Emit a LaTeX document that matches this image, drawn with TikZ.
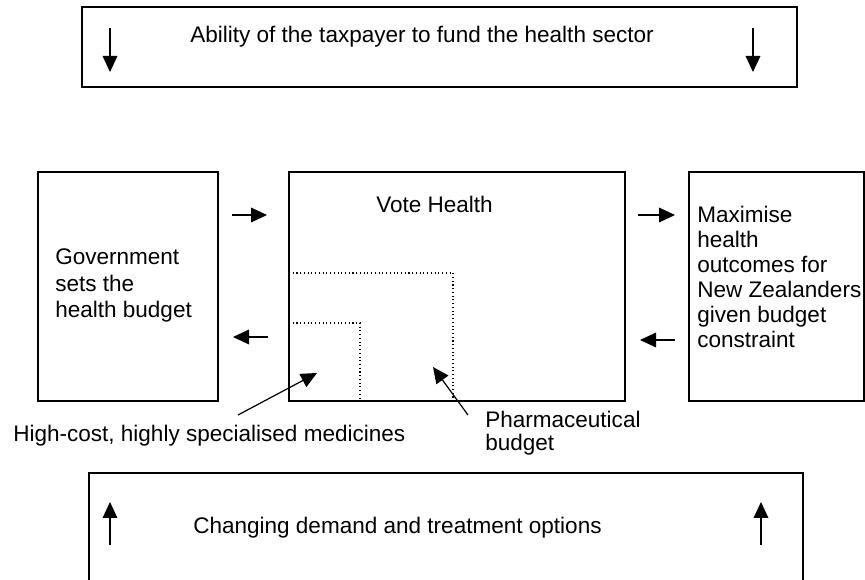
\documentclass[tikz,border=0pt]{standalone}
\usepackage{fontspec}
\setmainfont{Liberation Sans}
\usetikzlibrary{arrows.meta, positioning}

\begin{document}
\begin{tikzpicture}[x=0.75pt, y=-0.75pt,
  box/.style={draw, line width=1.2pt, inner sep=0pt, minimum height=171.75pt},
  lbl/.style={inner sep=0pt, font=\fontsize{16.9}{19.8}\selectfont},
  flow/.style={-{Triangle[length=12pt,width=11pt]}, line width=0.9pt},
  budgetline/.style={dotted, line width=0.8pt}]
  \useasboundingbox (0,0) rectangle (865,580);
  % --- outer constraints ---
  \node[box, minimum width=536.25pt, minimum height=60pt] (taxpayer) at (439.5,47) {};
  \node[box, minimum width=535.5pt, minimum height=87.75pt] (demand) at (446,531.5) {};
  \node[lbl, anchor=base west] (taxpayer text) at (190,43) {Ability of the taxpayer to fund the health sector};
  \node[lbl, anchor=base west] (demand text) at (193,534) {Changing demand and treatment options};
  \foreach \x in {110,753} \draw[flow] (\x,28) -- (\x,72);
  \foreach \x in {110,761} \draw[flow] (\x,545) -- (\x,502);
  % --- middle row ---
  \node[box, minimum width=135pt] (govt) at (128,286.5) {};
  \node[box, minimum width=252pt] (vote) at (457,286.5) {};
  \node[box, minimum width=131.25pt] (outcomes) at (776.5,286.5) {};
  \node[lbl, anchor=north west, align=left] (govt text) at (55,249) {Government\\sets the\\health budget};
  \node[lbl, anchor=base west] (vote text) at (376,213) {Vote Health};
  \node[lbl, anchor=north west, align=left, font=\fontsize{16.9}{18.8}\selectfont] (outcomes text) at (697,206)
    {Maximise\\health\\outcomes for\\New Zealanders\\given budget\\constraint};
  % Flows between the boxes
  \draw[flow] (232,215) -- (267,215);
  \draw[flow] (268,337) -- (233,337);
  \draw[flow] (638,215) -- (675,215);
  \draw[flow] (675,340) -- (640,340);
  % --- budgets inside Vote Health ---
  \draw[budgetline] (289,273) -| (453,400);
  \draw[budgetline] (289,323) -| (360,400);
  \node[lbl, anchor=base west] (hc text) at (13,442) {High-cost, highly specialised medicines};
  \node[lbl, anchor=north west, align=left, font=\fontsize{16.9}{17.4}\selectfont] (pharm text) at (485,411) {Pharmaceutical\\budget};
  \coordinate (hc tail) at (238,415);
  \coordinate (hc tip) at (317,373);
  \coordinate (pharm tail) at (468,415);
  \coordinate (pharm tip) at (433,367);
  \draw[flow] (hc tail) -- (hc tip);
  \draw[flow] (pharm tail) -- (pharm tip);
\end{tikzpicture}
\end{document}
